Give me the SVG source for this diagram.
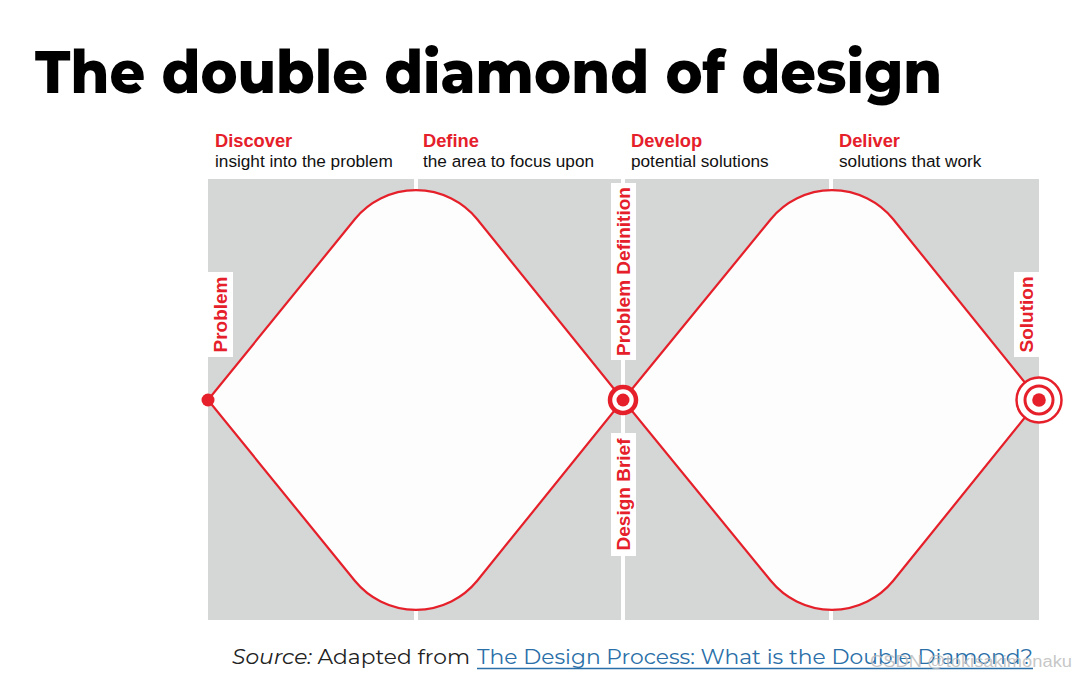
<svg xmlns="http://www.w3.org/2000/svg" width="1087" height="679" viewBox="0 0 1087 679">
<style>
.panel{fill:#d5d6d6}
.dia{fill:#fdfdfd;stroke:#e5202a;stroke-width:2.2}
.h{font-family:"Liberation Sans",Arial,sans-serif;font-weight:bold;font-size:18.3px;fill:#e5202a}
.s{font-family:"Liberation Sans",Arial,sans-serif;font-size:17.2px;fill:#111}
.v{font-family:"Liberation Sans",Arial,sans-serif;font-weight:bold;font-size:19px;fill:#e5202a;text-anchor:middle}
.lbl{fill:#ffffff}
.red{fill:#e5202a}
</style>
<rect width="1087" height="679" fill="#ffffff"/>
<text x="35" y="93" font-family="Montserrat,'Open Sans',sans-serif" font-weight="800" font-size="60" fill="#000" textLength="907" lengthAdjust="spacingAndGlyphs">The double diamond of design</text>

<g id="panels">
<rect class="panel" x="208" y="179" width="206" height="441"/>
<rect class="panel" x="418" y="179" width="203" height="441"/>
<rect class="panel" x="625" y="179" width="204" height="441"/>
<rect class="panel" x="833" y="179" width="206" height="441"/>
</g>

<g id="headings">
<text class="h" x="215" y="147">Discover</text>
<text class="s" x="215" y="167">insight into the problem</text>
<text class="h" x="423" y="147">Define</text>
<text class="s" x="423" y="167">the area to focus upon</text>
<text class="h" x="631" y="147">Develop</text>
<text class="s" x="631" y="167">potential solutions</text>
<text class="h" x="839" y="147">Deliver</text>
<text class="s" x="839" y="167">solutions that work</text>
</g>

<g id="connectors">
<path id="diamond1" class="dia" d="M208,400 L355,219 A79,79 0 0 1 477,219 L623,400 L477,581 A79,79 0 0 1 355,581 Z"/>
<path id="diamond2" class="dia" d="M623,400 L771,219 A79,79 0 0 1 893,219 L1039,400 L893,581 A79,79 0 0 1 771,581 Z"/>
</g>

<g id="problem">
<rect class="lbl" x="208" y="272" width="25" height="85"/>
<text class="v" transform="translate(227,314.5) rotate(-90)">Problem</text>
<circle class="red" cx="208" cy="400" r="6.5"/>
</g>

<g id="problem-definition">
<rect class="lbl" x="611" y="183" width="25" height="177"/>
<text class="v" transform="translate(630,271.5) rotate(-90)">Problem Definition</text>
</g>

<g id="design-brief">
<rect class="lbl" x="611" y="433" width="25" height="123"/>
<text class="v" transform="translate(630,494.5) rotate(-90)">Design Brief</text>
</g>

<g id="center-node">
<circle cx="623" cy="400" r="13" fill="#ffffff" stroke="#e5202a" stroke-width="4.5"/>
<circle class="red" cx="623" cy="400" r="6.5"/>
</g>

<g id="solution">
<rect class="lbl" x="1014" y="272" width="25" height="85"/>
<text class="v" transform="translate(1033,314.5) rotate(-90)">Solution</text>
<circle cx="1039" cy="400" r="22.5" fill="#ffffff" stroke="#e5202a" stroke-width="2.5"/>
<circle cx="1039" cy="400" r="14" fill="#ffffff" stroke="#e5202a" stroke-width="3"/>
<circle class="red" cx="1039" cy="400" r="6.8"/>
</g>

<g id="source">
<text x="232" y="664" font-family="Montserrat,'Open Sans',sans-serif" font-size="21" fill="#222" textLength="238" lengthAdjust="spacingAndGlyphs"><tspan font-style="italic">Source:</tspan> Adapted from</text>
<text x="477" y="664" font-family="Montserrat,'Open Sans',sans-serif" font-size="21" fill="#2a6fa8" textLength="556" lengthAdjust="spacingAndGlyphs">The Design Process: What is the Double Diamond?</text>
<line x1="477" y1="668.5" x2="1033" y2="668.5" stroke="#2a6fa8" stroke-width="1.3"/>
<text x="870" y="667" font-family="'Liberation Sans',Arial,sans-serif" font-size="16" fill="#bdbdbd" fill-opacity="0.85" textLength="202" lengthAdjust="spacingAndGlyphs">CSDN @tokisakimonaku</text>
</g>
</svg>
